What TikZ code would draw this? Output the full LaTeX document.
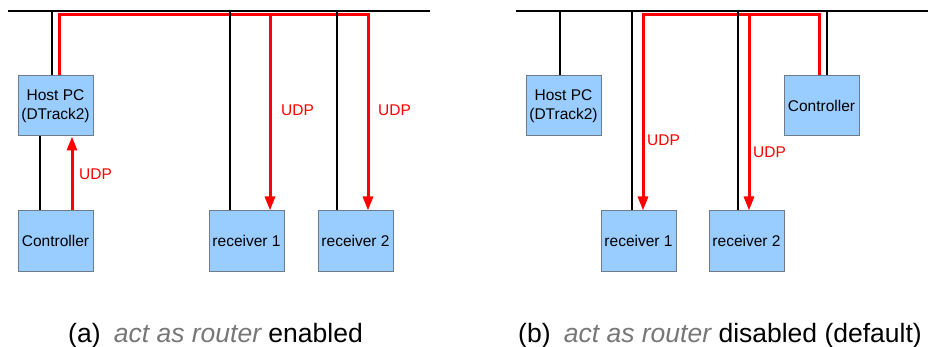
\documentclass[tikz,border=0pt]{standalone}
\usepackage{fontspec}
\setmainfont{Liberation Sans}
\usetikzlibrary{arrows.meta}
\definecolor{boxfill}{HTML}{99CCFF}
\definecolor{boxline}{HTML}{6E7B8B}
\definecolor{capgray}{HTML}{777777}
\begin{document}
\begin{tikzpicture}[x=1pt,y=-1pt,
  dev/.style={draw=boxline, line width=1pt, fill=boxfill, minimum width=75pt, minimum height=60pt,
    inner sep=0pt, align=center, font=\fontsize{15.5}{19}\selectfont},
  wire/.style={black, line width=2.4pt},
  msg/.style={red, line width=3pt, line join=miter},
  msgarrow/.style={msg, -{Triangle[length=14pt,width=10pt]}},
  udp/.style={red, anchor=west, inner sep=0pt, font=\fontsize{15.5}{19}\selectfont},
  caption/.style={inner sep=0pt, font=\fontsize{26.5}{30}\selectfont}]
\useasboundingbox (0,0) rectangle (928,347);

% ---------- panel (a) ----------
\coordinate (busAL) at (8,11);
\coordinate (busAR) at (430,11);
\coordinate (redA) at (0,15);
\node[dev] (hostA) at (55.5,106) {Host PC\\(DTrack2)};
\node[dev] (ctrlA) at (55.5,241) {Controller};
\node[dev] (rec1A) at (246.5,241) {receiver 1};
\node[dev] (rec2A) at (355.5,241) {receiver 2};

% red messages
\draw[msgarrow] ([xshift=3.5pt]hostA.north) -- ([xshift=3.5pt]hostA.north |- redA)
  -- ([xshift=12.5pt]rec2A.north |- redA) -- ([xshift=12.5pt]rec2A.north);
\draw[msgarrow] ([xshift=23.5pt]rec1A.north |- redA) -- ([xshift=23.5pt]rec1A.north);
\draw[msgarrow] ([xshift=16.5pt]ctrlA.north) -- ([xshift=16.5pt]hostA.south);

% black wires
\draw[wire] (busAL) -- (busAR);
\draw[wire] ([xshift=-3.5pt]hostA.north) -- ([xshift=-3.5pt]hostA.north |- busAL);
\draw[wire] ([xshift=-15.5pt]hostA.south) -- ([xshift=-15.5pt]ctrlA.north);
\draw[wire] ([xshift=-16.5pt]rec1A.north) -- ([xshift=-16.5pt]rec1A.north |- busAL);
\draw[wire] ([xshift=-18.5pt]rec2A.north) -- ([xshift=-18.5pt]rec2A.north |- busAL);

\node[udp] (udpA1) at (79,174) {UDP};
\node[udp] (udpA2) at (281,110) {UDP};
\node[udp] (udpA3) at (378,110) {UDP};

\node[caption, anchor=base west] (capA) at (68,342)
  {(a)\hspace{0.5em}\textcolor{capgray}{\itshape act as router} enabled};

% ---------- panel (b) ----------
\coordinate (busBL) at (516,11);
\coordinate (busBR) at (928,11);
\coordinate (redB) at (0,15);
\node[dev] (hostB) at (563.5,106) {Host PC\\(DTrack2)};
\node[dev] (ctrlB) at (821.5,106) {Controller};
\node[dev] (rec1B) at (638.5,241) {receiver 1};
\node[dev] (rec2B) at (746.5,241) {receiver 2};

\draw[msgarrow] ([xshift=-2.5pt]ctrlB.north) -- ([xshift=-2.5pt]ctrlB.north |- redB)
  -- ([xshift=4.5pt]rec1B.north |- redB) -- ([xshift=4.5pt]rec1B.north);
\draw[msgarrow] ([xshift=2.5pt]rec2B.north |- redB) -- ([xshift=2.5pt]rec2B.north);

\draw[wire] (busBL) -- (busBR);
\draw[wire] ([xshift=-3.5pt]hostB.north) -- ([xshift=-3.5pt]hostB.north |- busBL);
\draw[wire] ([xshift=-6.5pt]rec1B.north) -- ([xshift=-6.5pt]rec1B.north |- busBL);
\draw[wire] ([xshift=-8.5pt]rec2B.north) -- ([xshift=-8.5pt]rec2B.north |- busBL);
\draw[wire] ([xshift=5.5pt]ctrlB.north) -- ([xshift=5.5pt]ctrlB.north |- busBL);

\node[udp] (udpB1) at (647,140) {UDP};
\node[udp] (udpB2) at (753,152) {UDP};

\node[caption, anchor=base east] (capB) at (922,342)
  {(b)\hspace{0.5em}\textcolor{capgray}{\itshape act as router} disabled (default)};
\end{tikzpicture}
\end{document}
